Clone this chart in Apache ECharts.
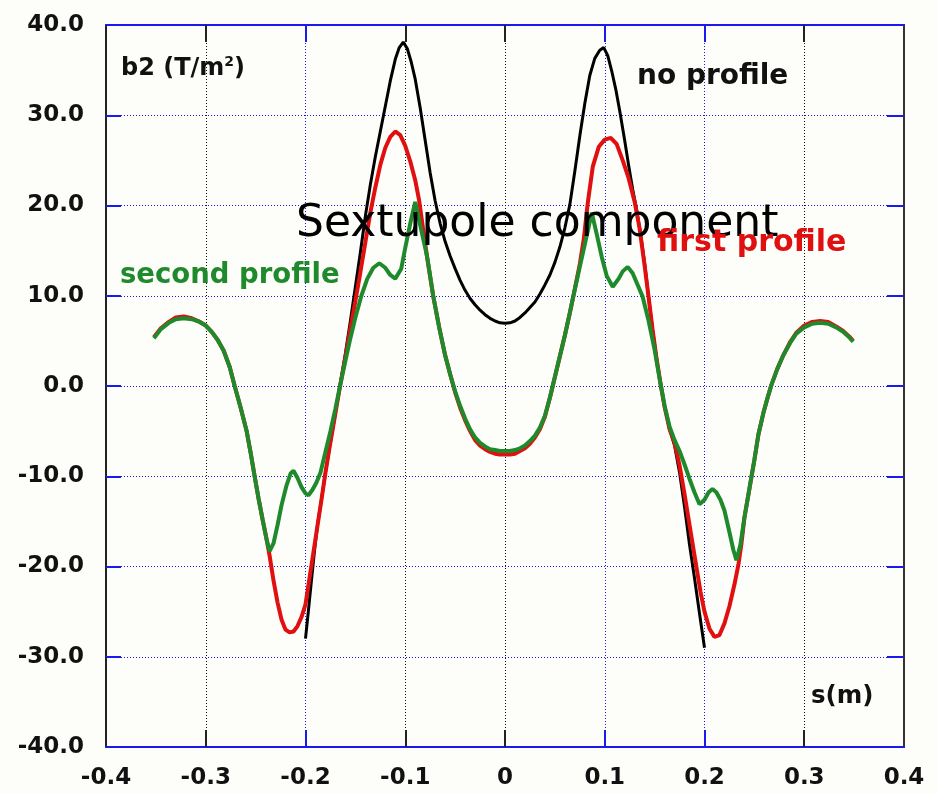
<!DOCTYPE html>
<html>
<head>
<meta charset="utf-8">
<script src="https://cdn.jsdelivr.net/npm/echarts@6/dist/echarts.min.js"></script>
<style>
  html, body { margin: 0; padding: 0; background: #fdfdf9; }
  #chart { width: 938px; height: 794px; }
</style>
</head>
<body>
<div id="chart"></div>
<script>
// Axis ticks and their labels
const xTicks = [-0.4, -0.3, -0.2, -0.1, 0, 0.1, 0.2, 0.3, 0.4];
const xTickLabels = ['-0.4', '-0.3', '-0.2', '-0.1', '0', '0.1', '0.2', '0.3', '0.4'];
const xTicksBlue = [-0.2, 0.1, 0.2];
const xTicksBlack = [-0.3, -0.1, 0, 0.3];
const yTicks = [-40, -30, -20, -10, 0, 10, 20, 30, 40];
const yTickLabels = ['-40.0', '-30.0', '-20.0', '-10.0', '0.0', '10.0', '20.0', '30.0', '40.0'];

// b2 along s, no end profile
const noX = [-0.2, -0.197, -0.194, -0.191, -0.188, -0.184, -0.18, -0.176, -0.172, -0.168, -0.165, -0.16, -0.155, -0.15, -0.145, -0.14, -0.135, -0.13, -0.125, -0.12, -0.115, -0.11, -0.106, -0.102, -0.098, -0.094, -0.09, -0.085, -0.08, -0.075, -0.07, -0.065, -0.06, -0.055, -0.05, -0.045, -0.04, -0.035, -0.03, -0.025, -0.02, -0.015, -0.01, -0.005, 0, 0.005, 0.01, 0.015, 0.02, 0.025, 0.03, 0.035, 0.04, 0.045, 0.05, 0.055, 0.06, 0.065, 0.07, 0.075, 0.08, 0.085, 0.09, 0.095, 0.099, 0.103, 0.107, 0.111, 0.115, 0.12, 0.124, 0.128, 0.132, 0.136, 0.14, 0.144, 0.148, 0.152, 0.156, 0.16, 0.165, 0.17, 0.175, 0.18, 0.185, 0.19, 0.195, 0.2];
const noY = [-28.0, -24.8, -21.5, -18.3, -15.4, -12.6, -9.6, -6.9, -4.3, -1.7, 0.3, 3.6, 7.2, 11.0, 14.8, 18.8, 22.3, 25.4, 28.2, 31.0, 33.8, 36.2, 37.5, 38.1, 37.4, 35.9, 34.0, 30.8, 27.2, 23.6, 20.5, 18.0, 16.0, 14.4, 13.0, 11.7, 10.6, 9.7, 9.0, 8.4, 7.9, 7.5, 7.2, 7.0, 6.95, 7.0, 7.2, 7.6, 8.1, 8.7, 9.3, 10.2, 11.2, 12.3, 13.7, 15.4, 17.5, 20.1, 23.8, 27.7, 31.3, 34.4, 36.3, 37.2, 37.5, 36.6, 34.9, 32.9, 30.5, 27.2, 24.4, 21.8, 19.5, 16.8, 13.6, 9.8, 6.2, 3.0, 0.2, -2.3, -4.8, -6.6, -9.6, -13.4, -17.6, -21.3, -25.2, -29.0];

// b2 along s, first profile
const firstX = [-0.352, -0.345, -0.337, -0.33, -0.322, -0.314, -0.306, -0.3, -0.294, -0.288, -0.282, -0.276, -0.271, -0.265, -0.259, -0.255, -0.251, -0.247, -0.243, -0.239, -0.236, -0.232, -0.228, -0.224, -0.22, -0.216, -0.212, -0.208, -0.204, -0.2, -0.196, -0.192, -0.188, -0.184, -0.18, -0.176, -0.172, -0.168, -0.165, -0.16, -0.155, -0.15, -0.145, -0.14, -0.135, -0.13, -0.125, -0.12, -0.115, -0.11, -0.105, -0.1, -0.095, -0.09, -0.086, -0.082, -0.078, -0.072, -0.066, -0.06, -0.055, -0.05, -0.045, -0.04, -0.035, -0.03, -0.025, -0.02, -0.015, -0.01, -0.005, 0, 0.005, 0.01, 0.015, 0.02, 0.025, 0.03, 0.035, 0.04, 0.045, 0.05, 0.055, 0.06, 0.065, 0.069, 0.075, 0.079, 0.083, 0.088, 0.094, 0.1, 0.106, 0.112, 0.118, 0.124, 0.13, 0.135, 0.14, 0.144, 0.148, 0.152, 0.156, 0.16, 0.165, 0.17, 0.175, 0.18, 0.185, 0.19, 0.196, 0.2, 0.205, 0.21, 0.215, 0.22, 0.225, 0.23, 0.234, 0.237, 0.24, 0.245, 0.25, 0.254, 0.259, 0.263, 0.267, 0.273, 0.279, 0.286, 0.292, 0.3, 0.308, 0.316, 0.324, 0.332, 0.339, 0.345, 0.349];
const firstY = [5.4, 6.4, 7.1, 7.6, 7.7, 7.5, 7.1, 6.7, 6.0, 5.1, 3.9, 2.1, 0.0, -2.4, -5.0, -7.4, -10.0, -12.5, -14.8, -17.0, -18.8, -21.6, -24.0, -25.9, -27.0, -27.3, -27.2, -26.6, -25.6, -24.2, -21.3, -18.4, -15.5, -12.6, -9.6, -6.9, -4.3, -1.7, 0.2, 3.2, 6.4, 9.4, 12.6, 15.9, 19.2, 22.0, 24.5, 26.4, 27.6, 28.2, 27.8, 26.6, 24.9, 22.8, 20.5, 17.3, 14.2, 10.0, 6.5, 3.4, 1.3, -0.7, -2.4, -3.8, -5.0, -6.0, -6.6, -7.0, -7.3, -7.5, -7.6, -7.6, -7.6, -7.5, -7.2, -6.9, -6.4, -5.7, -4.8, -3.4, -1.3, 1.0, 3.3, 5.6, 8.1, 10.2, 13.5, 16.3, 20.3, 24.3, 26.5, 27.3, 27.5, 26.8, 25.0, 23.0, 20.4, 17.4, 13.3, 9.8, 6.2, 3.0, 0.2, -2.3, -4.8, -6.3, -8.8, -12.0, -15.4, -18.8, -22.8, -25.0, -26.9, -27.8, -27.6, -26.3, -24.4, -22.0, -19.8, -17.5, -14.6, -11.4, -8.2, -5.4, -3.0, -1.4, 0.1, 1.9, 3.4, 4.9, 5.9, 6.7, 7.1, 7.2, 7.1, 6.6, 6.1, 5.5, 5.0];

// b2 along s, second profile
const secondX = [-0.352, -0.345, -0.337, -0.33, -0.322, -0.314, -0.306, -0.3, -0.294, -0.288, -0.282, -0.276, -0.271, -0.265, -0.259, -0.255, -0.251, -0.247, -0.243, -0.239, -0.236, -0.232, -0.228, -0.224, -0.219, -0.215, -0.212, -0.208, -0.204, -0.2, -0.197, -0.193, -0.189, -0.185, -0.18, -0.175, -0.17, -0.165, -0.16, -0.155, -0.15, -0.144, -0.138, -0.132, -0.126, -0.12, -0.115, -0.11, -0.104, -0.1, -0.095, -0.09, -0.085, -0.078, -0.072, -0.066, -0.06, -0.055, -0.05, -0.045, -0.04, -0.035, -0.03, -0.025, -0.02, -0.015, -0.01, -0.005, 0, 0.005, 0.01, 0.015, 0.02, 0.025, 0.03, 0.035, 0.04, 0.045, 0.05, 0.055, 0.06, 0.065, 0.069, 0.075, 0.081, 0.087, 0.092, 0.097, 0.102, 0.108, 0.114, 0.118, 0.123, 0.128, 0.133, 0.138, 0.144, 0.15, 0.155, 0.16, 0.165, 0.17, 0.175, 0.18, 0.185, 0.19, 0.195, 0.2, 0.204, 0.208, 0.212, 0.216, 0.22, 0.225, 0.229, 0.232, 0.236, 0.24, 0.245, 0.25, 0.254, 0.259, 0.263, 0.267, 0.273, 0.279, 0.286, 0.292, 0.3, 0.308, 0.316, 0.324, 0.332, 0.339, 0.345, 0.349];
const secondY = [5.3, 6.3, 7.0, 7.4, 7.5, 7.4, 7.1, 6.7, 6.0, 5.1, 3.9, 2.1, 0.0, -2.4, -5.0, -7.4, -10.0, -12.5, -14.8, -17.0, -18.3, -17.4, -15.4, -13.2, -11.0, -9.7, -9.4, -10.2, -11.2, -11.9, -12.1, -11.5, -10.7, -9.6, -7.3, -5.0, -2.5, 0.2, 2.8, 5.3, 7.6, 10.0, 11.9, 13.1, 13.6, 13.1, 12.3, 11.9, 13.0, 15.3, 18.0, 20.4, 17.8, 14.3, 10.0, 6.5, 3.4, 1.3, -0.6, -2.2, -3.6, -4.8, -5.7, -6.3, -6.7, -7.0, -7.1, -7.2, -7.2, -7.2, -7.1, -6.9, -6.6, -6.1, -5.5, -4.6, -3.3, -1.3, 1.0, 3.3, 5.6, 8.1, 10.2, 13.2, 16.2, 19.2, 16.8, 14.3, 12.2, 11.0, 11.9, 12.7, 13.2, 12.5, 11.2, 9.9, 7.2, 4.0, 0.8, -2.2, -4.5, -6.0, -7.2, -8.7, -10.3, -11.8, -13.1, -12.6, -11.8, -11.4, -11.8, -12.6, -13.8, -16.2, -18.2, -19.3, -17.6, -14.6, -11.4, -8.2, -5.4, -3.0, -1.4, 0.1, 1.9, 3.4, 4.8, 5.8, 6.5, 6.9, 7.0, 6.9, 6.5, 6.0, 5.4, 4.9];

const pairs = (xs, ys) => xs.map((x, i) => [x, ys[i]]);
const labelFor = (ticks, labels) => v => {
  let best = 0;
  ticks.forEach((t, i) => { if (Math.abs(t - v) < Math.abs(ticks[best] - v)) best = i; });
  return labels[best];
};

const BLUE = '#1a1aee';
const DARK = '#222222';
const RED = '#e01010';
const GREEN = '#1e8a2c';
const numFont = { fontFamily: 'DejaVu Sans', fontWeight: 'bold', fontSize: 23, color: '#111' };
const gridRect = { left: 106, right: 34, top: 25, bottom: 47 };

const chart = echarts.init(document.getElementById('chart'), null, { renderer: 'canvas' });

chart.setOption({
  backgroundColor: '#fdfdf9',
  animation: false,
  grid: [
    Object.assign({ containLabel: false }, gridRect),
    Object.assign({ containLabel: false }, gridRect)
  ],
  xAxis: [
    { // bottom axis: blue line, labels, blue ticks and blue dotted grid lines
      type: 'value', gridIndex: 0, position: 'bottom', min: -0.4, max: 0.4, interval: 0.1,
      axisLine: { show: true, onZero: false, lineStyle: { color: BLUE, width: 2 } },
      axisTick: { show: true, inside: true, length: 17, customValues: xTicksBlue, lineStyle: { color: BLUE, width: 2 } },
      axisLabel: Object.assign({ show: true, margin: 20, customValues: xTicks, formatter: labelFor(xTicks, xTickLabels) }, numFont),
      splitLine: { show: true, lineStyle: { color: BLUE, width: 1, type: [1, 2] } }
    },
    { // top axis: blue line and blue ticks
      type: 'value', gridIndex: 0, position: 'top', min: -0.4, max: 0.4, interval: 0.1,
      axisLine: { show: true, onZero: false, lineStyle: { color: BLUE, width: 2 } },
      axisTick: { show: true, inside: true, length: 17, customValues: xTicksBlue, lineStyle: { color: BLUE, width: 2 } },
      axisLabel: { show: false },
      splitLine: { show: false }
    },
    { // bottom overlay: black ticks and black dotted grid lines
      type: 'value', gridIndex: 1, position: 'bottom', min: -0.4, max: 0.4, interval: 0.1,
      axisLine: { show: false, onZero: false },
      axisTick: { show: true, inside: true, length: 17, customValues: xTicksBlack, lineStyle: { color: DARK, width: 2 } },
      axisLabel: { show: false },
      splitLine: { show: true, lineStyle: { color: '#111', width: 1, type: [1, 2] } }
    },
    { // top overlay: black ticks
      type: 'value', gridIndex: 1, position: 'top', min: -0.4, max: 0.4, interval: 0.1,
      axisLine: { show: false, onZero: false },
      axisTick: { show: true, inside: true, length: 17, customValues: xTicksBlack, lineStyle: { color: DARK, width: 2 } },
      axisLabel: { show: false },
      splitLine: { show: false }
    }
  ],
  yAxis: [
    {
      type: 'value', gridIndex: 0, position: 'left', min: -40, max: 40, interval: 10,
      axisLine: { show: true, onZero: false, lineStyle: { color: DARK, width: 2 } },
      axisTick: { show: true, inside: true, length: 15, lineStyle: { color: BLUE, width: 2 } },
      axisLabel: Object.assign({ show: true, margin: 22, formatter: labelFor(yTicks, yTickLabels) }, numFont),
      splitLine: { show: true, showMinLine: false, showMaxLine: false, lineStyle: { color: BLUE, width: 1, type: [1, 2] } }
    },
    {
      type: 'value', gridIndex: 0, position: 'right', min: -40, max: 40, interval: 10,
      axisLine: { show: true, onZero: false, lineStyle: { color: '#333', width: 2 } },
      axisTick: { show: true, inside: true, length: 17, lineStyle: { color: BLUE, width: 2 } },
      axisLabel: { show: false },
      splitLine: { show: false }
    },
    {
      type: 'value', gridIndex: 1, min: -40, max: 40, interval: 10, show: false
    }
  ],
  series: [
    {
      name: 'no profile', type: 'line', xAxisIndex: 0, yAxisIndex: 0,
      data: pairs(noX, noY), showSymbol: false, smooth: false, z: 3,
      lineStyle: { color: '#000', width: 3 }
    },
    {
      name: 'first profile', type: 'line', xAxisIndex: 0, yAxisIndex: 0,
      data: pairs(firstX, firstY), showSymbol: false, smooth: false, z: 4,
      lineStyle: { color: RED, width: 4 }
    },
    {
      name: 'second profile', type: 'line', xAxisIndex: 0, yAxisIndex: 0,
      data: pairs(secondX, secondY), showSymbol: false, smooth: false, z: 5,
      lineStyle: { color: GREEN, width: 4 }
    }
  ],
  graphic: [
    {
      type: 'text', left: 121, top: 55, z: 10,
      style: {
        text: '{b|b2 (T/m}{s|2}{b|)}',
        rich: {
          b: { fontFamily: 'DejaVu Sans', fontWeight: 'bold', fontSize: 24, fill: '#111' },
          s: { fontFamily: 'DejaVu Sans', fontWeight: 'bold', fontSize: 14, fill: '#111', verticalAlign: 'top', padding: [0, 0, 14, 0] }
        }
      }
    },
    {
      type: 'text', left: 637, top: 63, z: 10,
      style: { text: 'no profile', fontFamily: 'DejaVu Sans', fontWeight: 'bold', fontSize: 28, fill: '#111' }
    },
    {
      type: 'text', left: 296, top: 203, z: 10,
      style: { text: 'Sextupole component', fontFamily: 'DejaVu Sans', fontSize: 44, fill: '#000' }
    },
    {
      type: 'text', left: 657, top: 228, z: 10,
      style: { text: 'first profile', fontFamily: 'DejaVu Sans', fontWeight: 'bold', fontSize: 30, fill: RED }
    },
    {
      type: 'text', left: 120, top: 262, z: 10,
      style: { text: 'second profile', fontFamily: 'DejaVu Sans', fontWeight: 'bold', fontSize: 27.5, fill: GREEN }
    },
    {
      type: 'text', left: 811, top: 684, z: 10,
      style: { text: 's(m)', fontFamily: 'DejaVu Sans', fontWeight: 'bold', fontSize: 24.5, fill: '#111' }
    }
  ]
});
</script>
</body>
</html>
